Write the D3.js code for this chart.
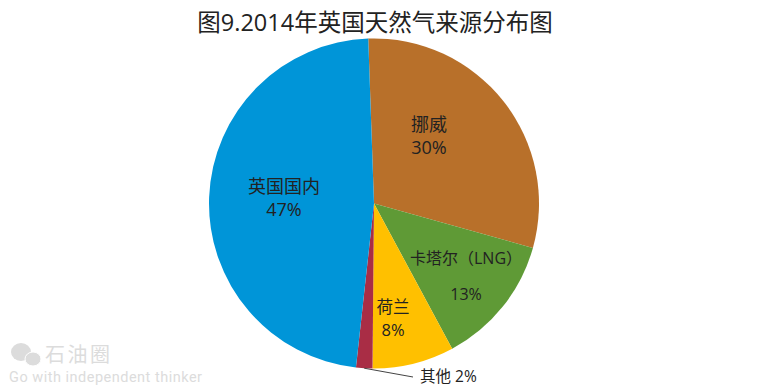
<!DOCTYPE html>
<html>

<head>
    <meta charset="utf-8">
    <title>图9</title>
    <script src="https://d3js.org/d3.v7.min.js"></script>
    <style>
        body {
            margin: 0;
            background: #fff;
            font-family: "Open Sans", "Noto Sans CJK SC", sans-serif;
        }

        svg {
            display: block;
        }
    </style>
</head>

<body>
    <svg id="chart" width="775" height="389"></svg>

    <script>
        // shares measured off the slice edges, the printed labels are rounded
        const sources = ["挪威", "卡塔尔（LNG）", "荷兰", "其他", "英国国内"];
        const shares = [29.9, 12.8, 8.0, 1.6, 47.7];
        const shareLabels = ["30%", "13%", "8%", "2%", "47%"];
        const colors = ["#b8702a", "#5f9a36", "#ffc000", "#a92d45", "#0095d8"];

        const svg = d3.select("#chart");
        const cx = 374, cy = 203.5, radius = 165;
        const startAngle = -2 * Math.PI / 180;

        const pie = d3.pie().sort(null).startAngle(startAngle).endAngle(startAngle + 2 * Math.PI);
        const arc = d3.arc().innerRadius(0).outerRadius(radius);
        const slices = pie(shares);

        svg.append("text")
            .attr("x", 375)
            .attr("y", 31)
            .attr("text-anchor", "middle")
            .attr("font-size", 23.5)
            .attr("fill", "#222")
            .text("图9.2014年英国天然气来源分布图");

        svg.append("g")
            .attr("transform", `translate(${cx},${cy})`)
            .selectAll("path")
            .data(slices)
            .enter()
            .append("path")
            .attr("d", arc)
            .attr("fill", (d, i) => colors[i]);

        // label positions as offset from pie centre, picked by eye
        const labelSpots = [
            [55, -73, 18],
            [92, 60, 16],
            [19, 109, 16.5],
            null,
            [-90, -11, 18]
        ];

        labelSpots.forEach((spot, i) => {
            if (!spot) return;
            const g = svg.append("g")
                .attr("transform", `translate(${cx + spot[0]},${cy + spot[1]})`)
                .attr("text-anchor", "middle")
                .attr("fill", "#222")
                .attr("font-size", spot[2]);
            g.append("text").text(sources[i]);
            g.append("text").attr("y", i === 1 ? 36 : 23).text(shareLabels[i]);
        });

        // leader for the small slice
        const otherMid = (slices[3].startAngle + slices[3].endAngle) / 2;
        const leadStart = [cx + radius * Math.sin(otherMid), cy - radius * Math.cos(otherMid)];
        svg.append("path")
            .attr("d", d3.line()([leadStart, [413, 377]]))
            .attr("fill", "none")
            .attr("stroke", "#444")
            .attr("stroke-width", 1);
        svg.append("text")
            .attr("x", 420)
            .attr("y", 382)
            .attr("font-size", 15.5)
            .attr("fill", "#222")
            .text(sources[3] + " " + shareLabels[3]);

        // watermark
        const mark = svg.append("g").attr("fill", "#dcdcdc");
        mark.append("ellipse").attr("cx", 21).attr("cy", 352).attr("rx", 10).attr("ry", 9);
        mark.append("ellipse").attr("cx", 33).attr("cy", 359).attr("rx", 8).attr("ry", 7).attr("stroke", "#fff");
        mark.append("text")
            .attr("x", 45)
            .attr("y", 362)
            .attr("font-size", 20)
            .attr("textLength", 65)
            .text("石油圈");
        mark.append("text")
            .attr("x", 9)
            .attr("y", 382)
            .attr("font-family", "Roboto")
            .attr("font-size", 14.5)
            .attr("textLength", 193)
            .text("Go with independent thinker");
    </script>
</body>

</html>
